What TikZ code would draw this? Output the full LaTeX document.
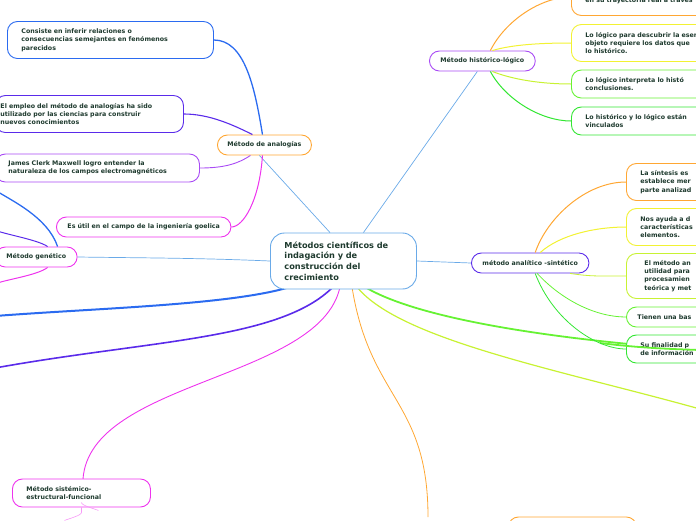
\documentclass[tikz,border=0pt]{standalone}
\usepackage{fontspec}
\setmainfont{DejaVu Sans}
\begin{document}
\begin{tikzpicture}[x=1pt,y=-1pt,
  bx/.style={draw,rounded corners=10pt,line width=0.9pt,fill=white,text=txt,
    font=\bfseries\fontsize{6.3}{8.3}\selectfont,align=left,anchor=west,inner xsep=14pt,inner ysep=0pt}]
\definecolor{txt}{HTML}{1E3A2E}
\definecolor{cblue}{HTML}{2B6BF0}
\definecolor{cpur}{HTML}{5A2BEA}
\definecolor{cvio}{HTML}{A94BF5}
\definecolor{cmag}{HTML}{EE33EE}
\definecolor{cora}{HTML}{FFA733}
\definecolor{cyel}{HTML}{F2F233}
\definecolor{clim}{HTML}{C8F233}
\definecolor{cgrn}{HTML}{66F233}
\definecolor{cgr2}{HTML}{33E633}
\definecolor{lblue}{HTML}{6AAAE8}
\useasboundingbox (0,0) rectangle (696,520);
\clip (0,0) rectangle (696,520);
\coordinate (L1) at (-5,316);
\coordinate (L2) at (-5,368);
\coordinate (R1) at (700,409);
\coordinate (R2) at (700,350);
\coordinate (sisT) at (83,479);
\coordinate (botT) at (428,517);
\draw[cblue,line width=2pt] (290,287) .. controls (230,305) and (100,308) .. (L1);
\draw[cpur,line width=1.6pt] (333,287) .. controls (280,340) and (150,340) .. (L2);
\draw[cmag,line width=0.9pt] (340,287) .. controls (320,380) and (90,380) .. (sisT);
\draw[cora,line width=0.8pt] (352,287) .. controls (370,400) and (428,400) .. (botT);
\draw[clim,line width=1.2pt] (357,287) .. controls (400,340) and (560,370) .. (R1);
\draw[cgrn,line width=1.8pt] (365,287) .. controls (420,320) and (560,340) .. (R2);
% nodes
\node[bx,draw=lblue,rounded corners=14pt,font=\bfseries\fontsize{8.2}{10.8}\selectfont,minimum height=56pt,text width=118pt] (c) at (270,261) {Métodos científicos de\\indagación y de\\construcción del\\crecimiento};
\node[bx,draw=cora,minimum height=20pt,inner xsep=10pt] (ana) at (217,145) {Método de analogías};
\node[bx,draw=cblue,minimum height=37pt,text width=178pt] (a1) at (7,40) {Consiste en inferir relaciones o\\consecuencias semejantes en fenómenos\\parecidos};
\node[bx,draw=cpur,minimum height=37pt,text width=178pt,inner xsep=5pt] (a2) at (-5,114) {El empleo del método de analogías ha sido\\utilizado por las ciencias para construir\\nuevos conocimientos};
\node[bx,draw=cvio,minimum height=28pt,text width=178pt,inner xsep=13pt] (a3) at (-5,168) {James Clerk Maxwell logro entender la\\naturaleza de los campos electromagnéticos};
\node[bx,draw=cmag,minimum height=20pt,inner xsep=11pt] (a4) at (56,227) {Es útil en el campo de la ingeniería goelica};
\node[bx,draw=cmag,minimum height=20pt,inner xsep=11pt] (gen) at (-5,257) {Método genético};
\node[bx,draw=cvio,minimum height=20pt,inner xsep=11pt] (his) at (429,61) {Método histórico-lógico};
\node[bx,draw=cora,minimum height=37pt,text width=200pt] (h1) at (571,-3) {Lo histórico se refiere al estudio\\en su trayectoria real a través};
\node[bx,draw=cyel,minimum height=37pt,text width=200pt] (h2) at (571,43) {Lo lógico para descubrir la esencia\\objeto requiere los datos que\\lo histórico.};
\node[bx,draw=cgrn,minimum height=28pt,text width=200pt] (h3) at (571,84) {Lo lógico interpreta lo histó\\conclusiones.};
\node[bx,draw=cgr2,minimum height=28pt,text width=200pt] (h4) at (571,121) {Lo histórico y lo lógico están\\vinculados};
\node[bx,draw=cpur,minimum height=20pt,inner xsep=11pt] (an) at (471,263) {método analítico -sintético};
\node[bx,draw=cora,minimum height=37pt,text width=200pt] (s1) at (626,182) {La síntesis es\\establece mer\\parte analizad};
\node[bx,draw=cyel,minimum height=37pt,text width=200pt] (s2) at (626,227) {Nos ayuda a d\\características\\elementos.};
\node[bx,draw=clim,minimum height=45pt,text width=200pt,inner xsep=18pt] (s3) at (626,276) {El método an\\utilidad para\\procesamien\\teórica y met};
\node[bx,draw=cgrn,minimum height=20pt,text width=200pt,inner xsep=11pt] (s4) at (626,317) {Tienen una bas};
\node[bx,draw=cgr2,minimum height=28pt,text width=200pt] (s5) at (626,349) {Su finalidad p\\de información};
\node[bx,draw=cmag,minimum height=28pt,text width=110pt] (sis) at (12,493) {Método sistémico-\\estructural-funcional};
\node[bx,draw=cora,minimum height=20pt,text width=100pt] (bot) at (508,527) {};
\draw[cgrn,line width=1.8pt] (600,343) .. controls (640,348) and (670,349) .. (R2);
% connectors
\draw[lblue,line width=0.7pt] (c.north west) ++(60,0) -- ([xshift=-5pt]ana.south);
\draw[lblue,line width=0.7pt] (c.north) ++(20,0) -- ([xshift=-5pt]his.south);
\draw[lblue,line width=0.7pt] (c.east) -- (an.west);
\draw[lblue,line width=0.7pt] (c.west) .. controls (200,258) and (150,258) .. (gen.east);
\draw[cblue,line width=1.3pt] ([xshift=-2pt]ana.north) .. controls +(-8,-50) and +(30,0) .. (a1.east);
\draw[cpur,line width=1.1pt] ([xshift=-12pt]ana.north) .. controls +(-20,-10) and +(25,0) .. (a2.east);
\draw[cvio,line width=0.9pt] ([xshift=-14pt]ana.south) .. controls +(-12,8) and +(25,0) .. (a3.east);
\draw[cmag,line width=1pt] ([xshift=-2pt]ana.south) .. controls +(-3,45) and +(12,0) .. (a4.east);
\draw[cora,line width=1pt] ([xshift=8pt]his.north) .. controls +(15,-30) and +(-30,0) .. (h1.west);
\draw[cyel,line width=1pt] ([xshift=10pt]his.north) .. controls +(20,-6) and +(-30,0) .. (h2.west);
\draw[clim,line width=1pt] ([xshift=10pt]his.south) .. controls +(20,8) and +(-30,0) .. (h3.west);
\draw[cgr2,line width=1pt] ([xshift=8pt]his.south) .. controls +(15,28) and +(-30,0) .. (h4.west);
\draw[cora,line width=1pt] ([xshift=5pt]an.north) .. controls +(12,-35) and +(-40,0) .. (s1.west);
\draw[cyel,line width=1pt] ([xshift=10pt]an.north) .. controls +(20,-18) and +(-30,0) .. (s2.west);
\draw[clim,line width=0.8pt] ([xshift=40pt]an.south) .. controls +(20,3) and +(-30,0) .. (s3.west);
\draw[cgrn,line width=0.8pt] ([xshift=7pt]an.south) .. controls +(25,27) and +(-30,0) .. (s4.west);
\draw[cgr2,line width=0.8pt] ([xshift=5pt]an.south) .. controls +(18,47) and +(-30,0) .. (s5.west);
\draw[cblue,line width=1.3pt] ([xshift=-20pt]gen.north east) .. controls +(-10,-30) and +(15,10) .. (-5,190);
\draw[cpur,line width=1pt] ([xshift=-30pt]gen.north east) .. controls +(-10,-7) and +(8,4) .. (-5,230);
\draw[cmag,line width=1pt] ([xshift=-30pt]gen.south east) .. controls +(-10,8) and +(8,-4) .. (-5,284);
\draw[cmag!50,line width=0.6pt] (sis.south) -- ++(0,5) .. controls +(0,3) and +(5,-2) .. ++(-17,8);
\draw[cmag!50,line width=0.6pt] ([yshift=5pt]sis.south) .. controls +(0,3) and +(-5,-2) .. ++(17,8);
\end{tikzpicture}
\end{document}
